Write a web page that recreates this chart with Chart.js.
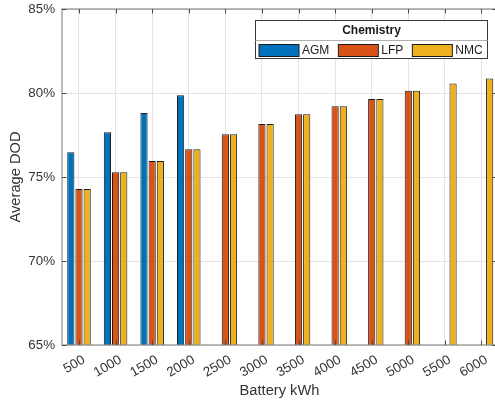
<!DOCTYPE html>
<html>
<head>
<meta charset="utf-8">
<script src="https://cdn.jsdelivr.net/npm/chart.js@4/dist/chart.umd.min.js"></script>
<style>
  html, body { margin: 0; padding: 0; background: #fff; overflow: hidden; }
  #wrap { width: 500px; height: 404px; }
</style>
</head>
<body>
<div id="wrap"><canvas id="c" width="500" height="404"></canvas></div>
<script>
// Battery sizes (kWh) along the x axis
const batteryKWh = [500, 1000, 1500, 2000, 2500, 3000, 3500, 4000, 4500, 5000, 5500, 6000];

// Average depth of discharge (%) per chemistry; null where no result exists
const agmDOD = [76.47, 77.66, 78.81, 79.86, null, null, null, null, null, null, null, null];
const lfpDOD = [74.29, 75.28, 75.95, 76.65, 77.54, 78.15, 78.73, 79.21, 79.64, 80.14, null, null];
const nmcDOD = [74.29, 75.28, 75.95, 76.65, 77.54, 78.15, 78.73, 79.21, 79.64, 80.14, 80.56, 80.87];

// Y axis tick values (%)
const yTickValues = [65, 70, 75, 80, 85];

const FONT = "'Liberation Sans', Arial, Helvetica, sans-serif";
const TEXT = '#333333';

const toPoints = vals => batteryKWh.map((x, i) => ({ x: x, y: vals[i] }));

function barSet(label, vals, color) {
  return {
    label: label,
    data: toPoints(vals),
    backgroundColor: color,
    borderColor: '#1c1c1c',
    borderWidth: 1,
    borderSkipped: false,
    categoryPercentage: 0.67,
    barPercentage: 0.88
  };
}

// Box outline with inward tick marks on all four sides
const axesBox = {
  id: 'axesBox',
  afterDatasetsDraw(chart) {
    const { ctx, chartArea: a, scales } = chart;
    ctx.save();
    ctx.strokeStyle = '#8e8e8e';
    ctx.lineWidth = 1.2;
    ctx.strokeRect(a.left, a.top, a.right - a.left, a.bottom - a.top);
    ctx.strokeStyle = '#4a4a4a';
    ctx.lineWidth = 1;
    const len = 4.5;
    scales.x.ticks.forEach((t, i) => {
      const px = Math.round(scales.x.getPixelForTick(i)) + 0.5;
      ctx.beginPath();
      ctx.moveTo(px, a.top); ctx.lineTo(px, a.top + len);
      ctx.moveTo(px, a.bottom); ctx.lineTo(px, a.bottom - len);
      ctx.stroke();
    });
    scales.y.ticks.forEach((t, i) => {
      const py = Math.round(scales.y.getPixelForTick(i)) + 0.5;
      ctx.beginPath();
      ctx.moveTo(a.left, py); ctx.lineTo(a.left + len, py);
      ctx.moveTo(a.right, py); ctx.lineTo(a.right - len, py);
      ctx.stroke();
    });
    ctx.restore();
  }
};

// Legend box with a title row, drawn from the datasets
const titledLegend = {
  id: 'titledLegend',
  afterDraw(chart) {
    const { ctx } = chart;
    const box = { left: 255.5, top: 20.5, right: 487.5, bottom: 58.5, split: 40.5 };
    ctx.save();
    ctx.fillStyle = '#ffffff';
    ctx.fillRect(box.left, box.top, box.right - box.left, box.bottom - box.top);
    ctx.strokeStyle = '#3a3a3a';
    ctx.lineWidth = 1;
    ctx.strokeRect(box.left, box.top, box.right - box.left, box.bottom - box.top);
    ctx.strokeStyle = '#b0b0b0';
    ctx.beginPath();
    ctx.moveTo(box.left, box.split); ctx.lineTo(box.right, box.split);
    ctx.stroke();

    ctx.fillStyle = '#1a1a1a';
    ctx.font = 'bold 12px ' + FONT;
    ctx.textAlign = 'center';
    ctx.textBaseline = 'middle';
    ctx.fillText('Chemistry', (box.left + box.right) / 2, 31);

    ctx.font = '12px ' + FONT;
    ctx.textAlign = 'left';
    let x = box.left + 3.5;
    const sy = 44.5, sh = 12, sw = 40;
    chart.data.datasets.forEach(ds => {
      ctx.fillStyle = ds.backgroundColor;
      ctx.fillRect(x, sy, sw, sh);
      ctx.strokeStyle = '#1c1c1c';
      ctx.strokeRect(x, sy, sw, sh);
      x += sw + 3;
      ctx.fillStyle = '#1a1a1a';
      ctx.fillText(ds.label, x, sy + sh / 2 + 0.5);
      x += ctx.measureText(ds.label).width + 9;
    });
    ctx.restore();
  }
};

new Chart(document.getElementById('c'), {
  type: 'bar',
  data: {
    datasets: [
      barSet('AGM', agmDOD, '#0072BD'),
      barSet('LFP', lfpDOD, '#D95319'),
      barSet('NMC', nmcDOD, '#EDB120')
    ]
  },
  options: {
    responsive: false,
    devicePixelRatio: 1,
    animation: false,
    layout: { padding: { top: 9, right: 3, left: 0, bottom: 0 } },
    scales: {
      x: {
        type: 'linear',
        offset: false,
        min: 267.7,
        max: 6212,
        afterBuildTicks: s => { s.ticks = batteryKWh.map(v => ({ value: v })); },
        afterFit: s => { s.height = 59; s.paddingLeft = 0; s.paddingRight = 0; },
        grid: { color: '#e4e4e4', lineWidth: 1, drawTicks: false, offset: false },
        border: { display: false },
        ticks: {
          autoSkip: false,
          minRotation: 30,
          maxRotation: 30,
          padding: 7,
          labelOffset: 5,
          color: TEXT,
          font: { family: FONT, size: 13.33 },
          callback: v => String(v)
        },
        title: {
          display: true,
          text: 'Battery kWh',
          color: TEXT,
          font: { family: FONT, size: 14.67 },
          padding: { top: 0, bottom: 4 }
        }
      },
      y: {
        min: 65,
        max: 85,
        afterBuildTicks: s => { s.ticks = yTickValues.map(v => ({ value: v })); },
        afterFit: s => { s.width = 62; s.paddingTop = 0; s.paddingBottom = 0; },
        grid: { color: '#e4e4e4', lineWidth: 1, drawTicks: false },
        border: { display: false },
        ticks: {
          padding: 7,
          color: TEXT,
          font: { family: FONT, size: 13.33 },
          callback: v => v + '%'
        },
        title: {
          display: true,
          text: 'Average DOD',
          color: TEXT,
          font: { family: FONT, size: 14.67 },
          padding: { top: 7, bottom: 0 }
        }
      }
    },
    plugins: {
      legend: { display: false },
      tooltip: { enabled: false }
    }
  },
  plugins: [axesBox, titledLegend]
});
</script>
</body>
</html>
